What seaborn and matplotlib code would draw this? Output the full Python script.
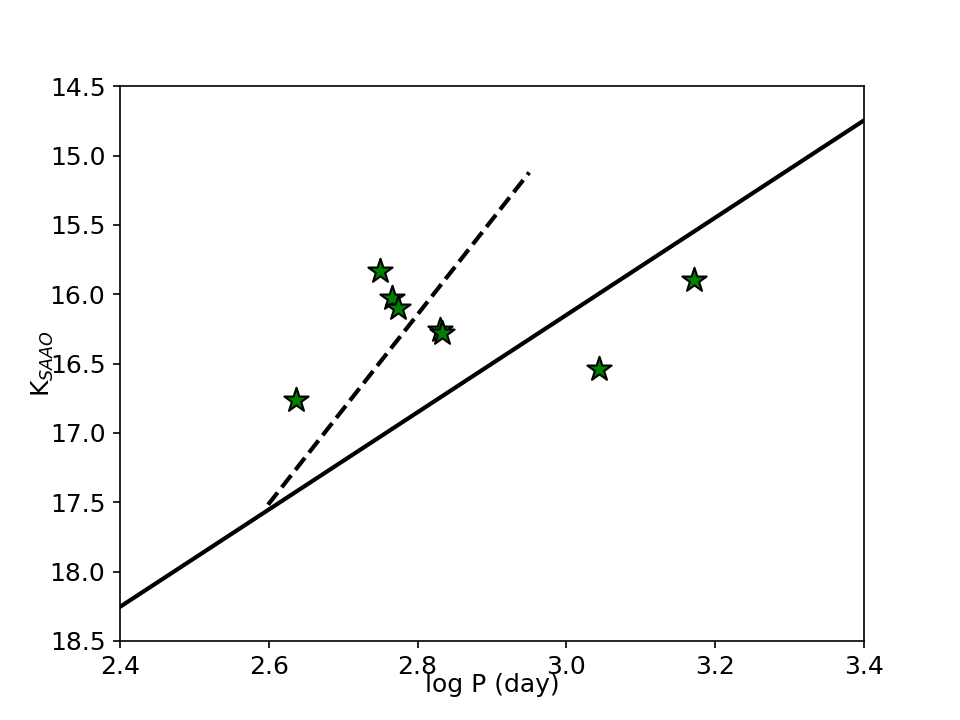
import matplotlib
matplotlib.use("Agg")
import matplotlib.pyplot as plt
import seaborn as sns
import pandas as pd

# star data (log P, K_SAAO)
logp = [2.637, 2.749, 2.766, 2.774, 2.830, 2.833, 3.044, 3.172]
kmag = [16.76, 15.83, 16.03, 16.10, 16.26, 16.28, 16.54, 15.90]

# relations drawn as lines (endpoints)
solid_x = [2.4, 3.4]
solid_y = [18.255, 14.745]
dash_x = [2.599, 2.950]
dash_y = [17.518, 15.121]

stars = pd.DataFrame({'logP': logp, 'K': kmag})

plt.rcParams['font.size'] = 12

fig, ax = plt.subplots(figsize=(6.4, 4.8), dpi=150)

sns.lineplot(x=solid_x, y=solid_y, ax=ax, color='black', linewidth=2)
sns.lineplot(x=dash_x, y=dash_y, ax=ax, color='black', linewidth=2, linestyle='--')
sns.scatterplot(data=stars, x='logP', y='K', ax=ax, marker='*', s=150,
                color='green', edgecolor='black', linewidth=1, zorder=3)

ax.set_xlim(2.4, 3.4)
ax.set_ylim(18.5, 14.5)
ax.set_xticks([2.4, 2.6, 2.8, 3.0, 3.2, 3.4])
ax.set_yticks([14.5, 15.0, 15.5, 16.0, 16.5, 17.0, 17.5, 18.0, 18.5])
ax.tick_params(labelsize=12)
ax.set_xlabel('log P (day)', fontsize=12, labelpad=-3)
ax.set_ylabel(r'K$_{SAAO}$', fontsize=12, labelpad=-3)

plt.savefig('out.png', dpi=150)
